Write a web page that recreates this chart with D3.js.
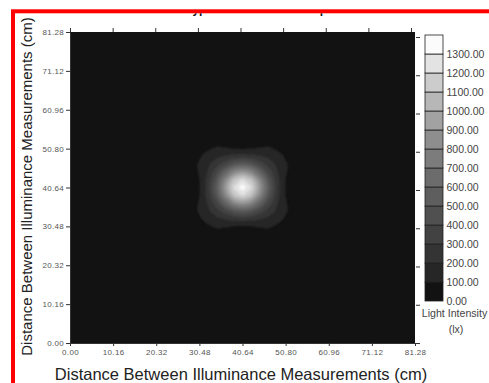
<!DOCTYPE html>
<html>
<head>
<meta charset="utf-8">
<script src="https://cdn.jsdelivr.net/npm/d3@7"></script>
<style>
  body { margin: 0; background: #fff; }
  svg { display: block; font-family: Arial, "Liberation Sans", sans-serif; }
</style>
</head>
<body>
<div id="chart"></div>
<script>
// tick values on both axes (cm)
const axisTicks = [0, 10.16, 20.32, 30.48, 40.64, 50.80, 60.96, 71.12, 81.28];

// positions of the sampled grid (cm), same along x and y
const gridPositions = [26.416, 28.448, 30.48, 32.512, 34.544, 36.576, 38.608, 40.64,
    42.672, 44.704, 46.736, 48.768, 50.8, 52.832, 54.864];

// illuminance (lx) at each grid point, top row first
const illuminance = [
    [0, 0, 2, 5, 9, 11, 9, 8, 9, 11, 9, 5, 2, 0, 0],
    [0, 3, 12, 30, 45, 43, 35, 30, 35, 43, 45, 30, 12, 3, 0],
    [2, 12, 45, 86, 116, 110, 98, 94, 98, 110, 116, 86, 45, 12, 2],
    [5, 30, 86, 150, 182, 210, 240, 256, 240, 210, 182, 150, 86, 30, 5],
    [9, 45, 116, 182, 262, 366, 480, 529, 480, 366, 262, 182, 116, 45, 9],
    [11, 43, 110, 210, 366, 592, 803, 890, 803, 592, 366, 210, 110, 43, 11],
    [9, 35, 98, 240, 480, 803, 1096, 1217, 1096, 803, 480, 240, 98, 35, 9],
    [8, 30, 94, 256, 529, 890, 1217, 1350, 1217, 890, 529, 256, 94, 30, 8],
    [9, 35, 98, 240, 480, 803, 1096, 1217, 1096, 803, 480, 240, 98, 35, 9],
    [11, 43, 110, 210, 366, 592, 803, 890, 803, 592, 366, 210, 110, 43, 11],
    [9, 45, 116, 182, 262, 366, 480, 529, 480, 366, 262, 182, 116, 45, 9],
    [5, 30, 86, 150, 182, 210, 240, 256, 240, 210, 182, 150, 86, 30, 5],
    [2, 12, 45, 86, 116, 110, 98, 94, 98, 110, 116, 86, 45, 12, 2],
    [0, 3, 12, 30, 45, 43, 35, 30, 35, 43, 45, 30, 12, 3, 0],
    [0, 0, 2, 5, 9, 11, 9, 8, 9, 11, 9, 5, 2, 0, 0]
];

// legend levels (lx), each one starts a band of 100
const legendLevels = [0, 100, 200, 300, 400, 500, 600, 700, 800, 900, 1000, 1100, 1200, 1300];
const legendMax = 1400;

// grey of each band, lowest first
const bandColors = ['#121212', '#262626', '#343434', '#424242', '#505050', '#5e5e5e', '#6c6c6c',
    '#7c7c7c', '#8e8e8e', '#a2a2a2', '#b7b7b7', '#cccccc', '#e3e3e3', '#fbfbfb'];

const width = 489;
const height = 383;
const fmt = d3.format('.2f');

const svg = d3.select('#chart').append('svg')
    .attr('width', width)
    .attr('height', height);

const x = d3.scaleLinear().domain([0, 81.28]).range([70, 415]);
const y = d3.scaleLinear().domain([0, 81.28]).range([343, 32]);
// the mirrored axes of the original are a little off from the main ones
const xTop = d3.scaleLinear().domain([0, 81.28]).range([70, 411]);
const yRight = d3.scaleLinear().domain([0, 81.28]).range([343, 37]);

const defs = svg.append('defs');
defs.append('clipPath').attr('id', 'plot-clip')
    .append('rect')
    .attr('x', x(0)).attr('y', y(81.28))
    .attr('width', x(81.28) - x(0)).attr('height', y(0) - y(81.28));
defs.append('clipPath').attr('id', 'title-clip')
    .append('rect')
    .attr('x', 0).attr('y', 13.2).attr('width', width).attr('height', 8);
defs.append('filter').attr('id', 'soft')
    .attr('x', '-20%').attr('y', '-20%').attr('width', '140%').attr('height', '140%')
    .append('feGaussianBlur').attr('stdDeviation', 1);

// title, mostly hidden under the red frame
svg.append('text')
    .attr('clip-path', 'url(#title-clip)')
    .attr('x', 186)
    .attr('y', 13.3)
    .attr('font-size', 12)
    .attr('font-weight', 'bold')
    .attr('fill', '#111')
    .text('Typical Illuminance Output');

// plot background = lowest band
svg.append('rect')
    .attr('x', x(0)).attr('y', y(81.28))
    .attr('width', x(81.28) - x(0)).attr('height', y(0) - y(81.28))
    .attr('fill', bandColors[0]);

// filled contour bands
const n = gridPositions.length;
const contours = d3.contours()
    .size([n, n])
    .thresholds(legendLevels.slice(1))(illuminance.flat());

const gx = d3.scaleLinear().domain([0.5, n - 0.5]).range([x(gridPositions[0]), x(gridPositions[n - 1])]);
const gy = d3.scaleLinear().domain([0.5, n - 0.5]).range([y(gridPositions[n - 1]), y(gridPositions[0])]);
const ringLine = d3.line()
    .x(p => gx(p[0]))
    .y(p => gy(p[1]))
    .curve(d3.curveCatmullRomClosed.alpha(0.5));

svg.append('g')
    .attr('clip-path', 'url(#plot-clip)')
    .append('g')
    .attr('filter', 'url(#soft)')
    .selectAll('path')
    .data(contours)
    .join('path')
    .attr('fill', d => bandColors[legendLevels.indexOf(d.value)])
    .attr('fill-rule', 'evenodd')
    .attr('d', d => d.coordinates
        .map(poly => poly.map(ring => ringLine(ring.slice(0, -1))).join(''))
        .join(''));

// axes
function styleAxis(g) {
    g.selectAll('.tick line').attr('stroke', '#333');
    g.selectAll('.tick text')
        .attr('fill', '#555')
        .attr('font-size', 8)
        .attr('letter-spacing', 0.3);
    g.select('.domain').attr('stroke', '#333');
}

svg.append('g')
    .attr('transform', `translate(${x(0)},0)`)
    .call(d3.axisLeft(y).tickValues(axisTicks).tickFormat(fmt).tickSize(4).tickSizeOuter(0).tickPadding(2))
    .call(styleAxis);

svg.append('g')
    .attr('transform', `translate(0,${y(0)})`)
    .call(d3.axisBottom(x).tickValues(axisTicks).tickFormat(fmt).tickSize(3).tickSizeOuter(0).tickPadding(3))
    .call(styleAxis);

svg.append('g')
    .attr('transform', `translate(0,${y(81.28)})`)
    .call(d3.axisTop(xTop).tickValues(axisTicks).tickFormat('').tickSize(4).tickSizeOuter(0))
    .call(styleAxis)
    .call(g => g.select('.domain').remove());

svg.append('g')
    .attr('transform', `translate(${x(81.28) + 1},0)`)
    .call(d3.axisRight(yRight).tickValues(axisTicks).tickFormat('').tickSize(4).tickSizeOuter(0))
    .call(styleAxis)
    .call(g => g.select('.domain').remove());

// colour legend
const cb = d3.scaleLinear().domain([0, legendMax]).range([301, 35]);
const legend = svg.append('g');
legend.selectAll('rect')
    .data(legendLevels)
    .join('rect')
    .attr('x', 425)
    .attr('width', 18)
    .attr('y', d => cb(d + 100))
    .attr('height', d => cb(d) - cb(d + 100))
    .attr('fill', (d, i) => bandColors[i])
    .attr('stroke', '#222')
    .attr('stroke-width', 0.8);
legend.selectAll('text')
    .data(legendLevels)
    .join('text')
    .attr('x', 446.5)
    .attr('y', d => cb(d))
    .attr('dy', '0.35em')
    .attr('font-size', 10.5)
    .attr('fill', '#444')
    .text(fmt);
legend.append('text')
    .attr('x', 454.5).attr('y', 317)
    .attr('text-anchor', 'middle')
    .attr('font-size', 10.6)
    .attr('fill', '#444')
    .text('Light Intensity');
legend.append('text')
    .attr('x', 456).attr('y', 333)
    .attr('text-anchor', 'middle')
    .attr('font-size', 10.6)
    .attr('fill', '#444')
    .text('(lx)');

// axis titles
svg.append('text')
    .attr('x', 241).attr('y', 380)
    .attr('text-anchor', 'middle')
    .attr('font-size', 16.5)
    .attr('fill', '#222')
    .text('Distance Between Illuminance Measurements (cm)');
svg.append('text')
    .attr('transform', 'translate(32,186.5) rotate(-90)')
    .attr('text-anchor', 'middle')
    .attr('font-size', 15)
    .attr('fill', '#222')
    .text('Distance Between Illuminance Measurements (cm)');

// red frame round the picture
svg.append('rect')
    .attr('x', 13).attr('y', 11.3)
    .attr('width', 700).attr('height', 700)
    .attr('fill', 'none')
    .attr('stroke', '#f00')
    .attr('stroke-width', 4);
</script>
</body>
</html>
